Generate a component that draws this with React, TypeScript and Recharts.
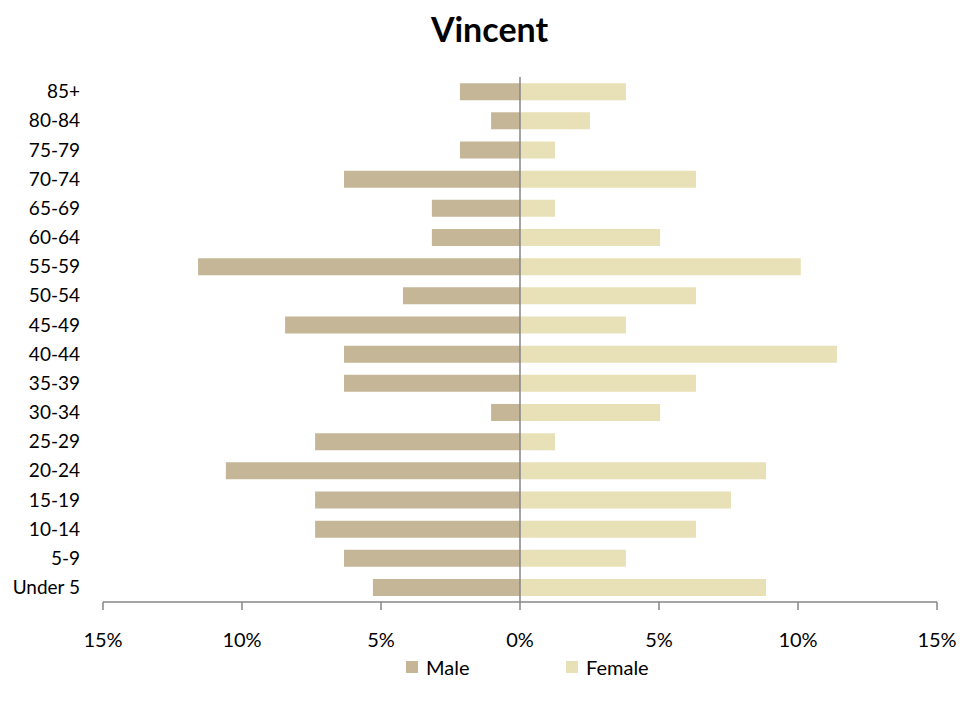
import React from 'react';
import { BarChart, Bar, XAxis, YAxis, ReferenceLine, Legend } from 'recharts';

const ageGroups = ['85+', '80-84', '75-79', '70-74', '65-69', '60-64', '55-59', '50-54', '45-49', '40-44', '35-39', '30-34', '25-29', '20-24', '15-19', '10-14', '5-9', 'Under 5'];
const maleValues = [2.16, 1.04, 2.16, 6.33, 3.17, 3.17, 11.58, 4.21, 8.45, 6.33, 6.33, 1.04, 7.37, 10.58, 7.37, 7.37, 6.33, 5.29];
const femaleValues = [3.81, 2.52, 1.26, 6.33, 1.26, 5.04, 10.1, 6.33, 3.81, 11.4, 6.33, 5.04, 1.26, 8.85, 7.59, 6.33, 3.81, 8.85];
const xTicks = [-15, -10, -5, 0, 5, 10, 15];

const data = ageGroups.map((g, i) => ({ age: g, Male: -maleValues[i], Female: femaleValues[i] }));

const MALE = '#C4B696';
const FEMALE = '#E8E0B6';
const FONT = 'Lato, "Open Sans", sans-serif';

const renderLegend = () => (
  <div style={{ display: 'flex', fontFamily: FONT, fontSize: 20, color: '#000', lineHeight: '24px' }}>
    <div style={{ display: 'flex', alignItems: 'center', width: 160 }}>
      <span style={{ display: 'inline-block', width: 12, height: 12, background: MALE, marginRight: 8 }} />
      <span>Male</span>
    </div>
    <div style={{ display: 'flex', alignItems: 'center' }}>
      <span style={{ display: 'inline-block', width: 12, height: 12, background: FEMALE, marginRight: 8 }} />
      <span>Female</span>
    </div>
  </div>
);

export default function App() {
  return (
    <div style={{ position: 'absolute', left: 0, top: 0, width: 979, height: 713, background: '#fff' }}>
      <div style={{ position: 'absolute', left: 0, top: 9, width: 979, textAlign: 'center', fontFamily: FONT, fontWeight: 700, fontSize: 34, color: '#000', lineHeight: '40px' }}>
        Vincent
      </div>
      <BarChart
        width={979}
        height={713}
        data={data}
        layout="vertical"
        stackOffset="sign"
        barCategoryGap="21%"
        margin={{ top: 77, right: 42, bottom: 61, left: 0 }}
      >
        <XAxis
          type="number"
          domain={[-15, 15]}
          ticks={xTicks}
          allowDataOverflow
          tickFormatter={(v: number) => `${Math.abs(v)}%`}
          axisLine={{ stroke: '#868686', strokeWidth: 1.5 }}
          tickLine={{ stroke: '#868686', strokeWidth: 1.5 }}
          tickSize={8}
          tickMargin={23}
          height={50}
          tick={{ fill: '#000', fontSize: 20, fontFamily: FONT }}
        />
        <YAxis
          type="category"
          dataKey="age"
          width={103}
          axisLine={false}
          tickLine={false}
          tickSize={0}
          tickMargin={23}
          interval={0}
          tick={{ fill: '#000', fontSize: 19, fontFamily: FONT }}
        />
        <Bar dataKey="Male" stackId="a" fill={MALE} isAnimationActive={false} />
        <Bar dataKey="Female" stackId="a" fill={FEMALE} isAnimationActive={false} />
        <ReferenceLine x={0} stroke="#868686" strokeWidth={1.5} />
        <Legend
          layout="horizontal"
          verticalAlign="middle"
          align="center"
          content={renderLegend}
          wrapperStyle={{ position: 'absolute', top: 655, left: 406, width: 300 }}
        />
      </BarChart>
    </div>
  );
}
